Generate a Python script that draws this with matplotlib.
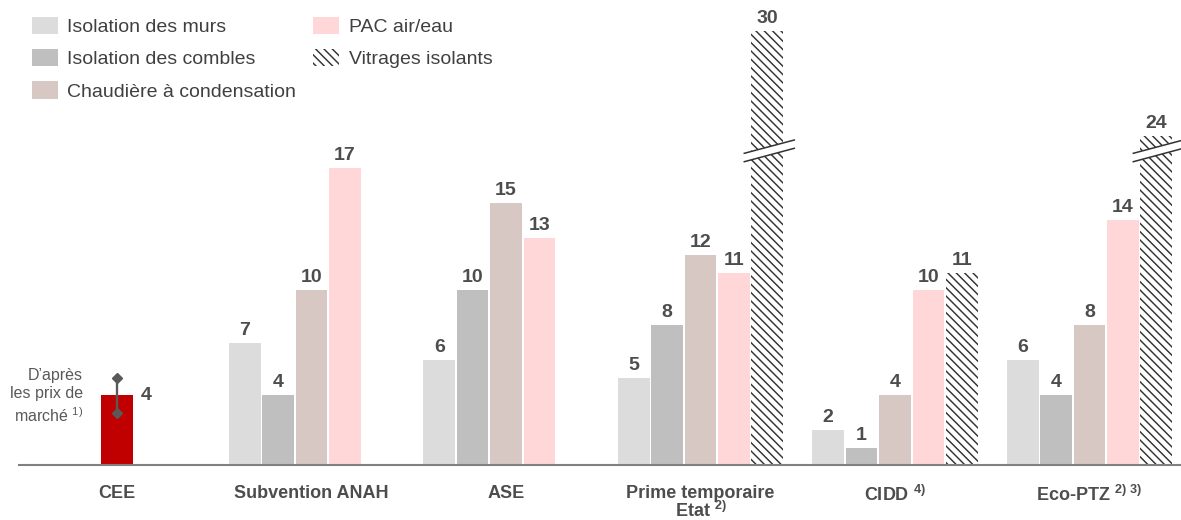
import numpy as np
import matplotlib
matplotlib.use("Agg")
import matplotlib.pyplot as plt
from matplotlib.patches import Patch, Polygon
from matplotlib.lines import Line2D

plt.rcParams['font.family'] = ['Liberation Sans', 'DejaVu Sans']
plt.rcParams['mathtext.default'] = 'regular'
plt.rcParams['hatch.linewidth'] = 1.05

# ---- data -------------------------------------------------------------
groups = ["CEE", "Subvention ANAH", "ASE", "Prime temporaire\nEtat $^{2)}$",
          "CIDD $^{4)}$", "Eco-PTZ $^{2)\\ 3)}$"]
series = ["Isolation des murs", "Isolation des combles",
          "Chaudière à condensation", "PAC air/eau", "Vitrages isolants"]
nan = np.nan
murs = [nan, 7, 6, 5, 2, 6]
combles = [nan, 4, 10, 8, 1, 4]
chaudiere = [nan, 10, 15, 12, 4, 8]
pac = [nan, 17, 13, 11, 10, 14]
vitrages = [nan, nan, nan, 30, 11, 24]
cee_value = 4
cee_low, cee_high = 3, 5
cee_note = "D’après\nles prix de\nmarché $^{1)}$"

values = [murs, combles, chaudiere, pac, vitrages]
colors = ["#DCDCDC", "#BFBFBF", "#D8C8C4", "#FFD7D8", "white"]
TEXT = "#4D4D4D"
HATCH = chr(92) * 4      # dense back-slash stripes

# ---- layout -----------------------------------------------------------
W, H = 1181, 520
SLOT_PX = 33.4          # horizontal room for one bar
PPU = 17.5              # pixels per unit on the value axis
PITCH = 194.5 / SLOT_PX  # distance between group starts, in slots
SLOTS = 5               # bar slots per group
BREAK_LO, BREAK_HI = 18.0, 23.2   # cut-out section of the value axis

fig = plt.figure(figsize=(W / 100, H / 100), dpi=100)
base_px, break_px, top_px = 465, 150, 10
ax = fig.add_axes([19 / W, (H - base_px) / H, (W - 19) / W, (base_px - break_px) / H])
axt = fig.add_axes([19 / W, (H - break_px) / H, (W - 19) / W, (break_px - top_px) / H],
                   sharex=ax)
x0 = (19 - 33.5) / SLOT_PX
x1 = (W - 33.5) / SLOT_PX
ax.set_xlim(x0, x1)
ax.set_ylim(0, BREAK_LO)
axt.set_ylim(BREAK_HI, BREAK_HI + (break_px - top_px) / PPU)

for a in (ax, axt):
    a.set_facecolor("none")
    for s in a.spines.values():
        s.set_visible(False)
    a.set_xticks([])
    a.set_yticks([])
ax.spines["bottom"].set_visible(True)
ax.spines["bottom"].set_color("#808080")
ax.spines["bottom"].set_linewidth(1.5)

BW = 0.95
gidx = np.arange(len(groups))

# ---- bars -------------------------------------------------------------
for i, (vals, col) in enumerate(zip(values, colors)):
    xs = gidx * PITCH + i + 0.5
    v = np.array(vals, dtype=float)
    kw = dict(width=BW, color=col, linewidth=0)
    if series[i] == "Vitrages isolants":
        kw.update(edgecolor="#333333", hatch=HATCH)
    for a in (ax, axt):
        a.bar(xs, v, **kw)
    for xb, vb in zip(xs, v):
        if np.isnan(vb):
            continue
        target = axt if vb > BREAK_LO else ax
        target.annotate(f"{vb:g}", (xb, vb), xytext=(0, 5.5), textcoords="offset points",
                        ha="center", va="baseline", fontsize=14, fontweight="bold",
                        color=TEXT, annotation_clip=False)
        if vb > BREAK_LO:
            # break symbol: white band between two slanted strokes
            def pt(dxp, dyp):
                return (xb + dxp / SLOT_PX, BREAK_LO + dyp / PPU)
            up = [pt(-23, -3.3), pt(27, 10.0)]
            lo = [pt(-23, -11.7), pt(27, 1.7)]
            band = Polygon([up[0], up[1], lo[1], lo[0]], closed=True, facecolor="white",
                           edgecolor="none", transform=ax.transData, clip_on=False, zorder=5)
            axt.add_artist(band)
            for seg in (up, lo):
                axt.add_artist(Line2D([seg[0][0], seg[1][0]], [seg[0][1], seg[1][1]],
                                      color="#333333", lw=1.1, transform=ax.transData,
                                      clip_on=False, zorder=6))

# ---- CEE bar with market-price range ------------------------------------
cee_x = 0 * PITCH + 2.5
ax.bar([cee_x], [cee_value], width=BW, color="#C00000", linewidth=0)
ax.plot([cee_x, cee_x], [cee_low, cee_high], color="#595959", lw=1.7,
        marker="D", markersize=5.5, zorder=4)
ax.annotate(f"{cee_value:g}", (cee_x + BW / 2, cee_value), xytext=(6, 0),
            textcoords="offset points", ha="left", va="center", fontsize=14,
            fontweight="bold", color=TEXT)
ax.annotate(cee_note, (cee_x - BW / 2, cee_value), xytext=(-13, -1),
            textcoords="offset points", ha="right", va="center", fontsize=11.5,
            color="#595959", linespacing=1.3, multialignment="right")

# ---- category labels (centred on the five-slot group) -------------------
for g, name in enumerate(groups):
    cx = g * PITCH + SLOTS / 2
    ax.annotate(name, (cx, 0), xycoords=("data", "axes fraction"), xytext=(0, -14.3),
                textcoords="offset points", ha="center", va="top", fontsize=13,
                fontweight="bold", color=TEXT, linespacing=0.96,
                multialignment="center", annotation_clip=False)

# ---- legend -------------------------------------------------------------
handles = []
for name, col in zip(series, colors):
    if name == "Vitrages isolants":
        handles.append(Patch(facecolor="white", edgecolor="#333333", hatch=HATCH,
                             linewidth=0, label=name))
    else:
        handles.append(Patch(facecolor=col, edgecolor="none", label=name))
fig.legend(handles=handles, loc="upper left", bbox_to_anchor=(31.5 / W, 1 - 16.5 / H),
           ncol=2, frameon=False, fontsize=14, labelcolor="#404040",
           handlelength=1.34, handleheight=0.98, handletextpad=0.48,
           labelspacing=0.68, columnspacing=0.9, borderpad=0, borderaxespad=0)

fig.savefig("out.png", dpi=100)
